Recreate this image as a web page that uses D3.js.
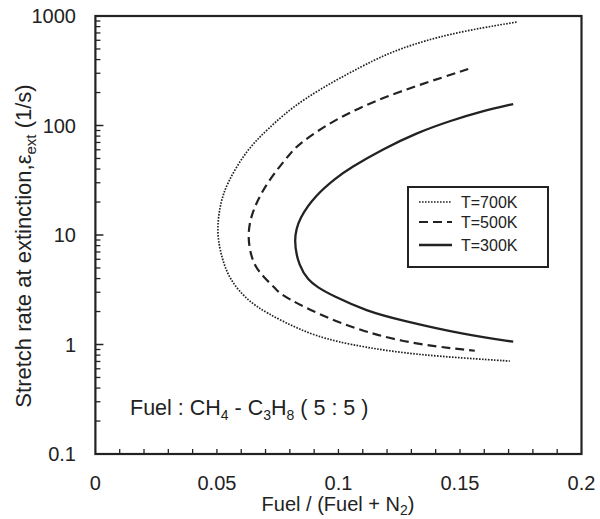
<!DOCTYPE html>
<html><head><meta charset="utf-8">
<script src="https://cdn.jsdelivr.net/npm/d3@7"></script>
<style>body{margin:0;background:#fff}svg{display:block}text{font-family:"Liberation Sans",Arial,sans-serif;fill:#222}</style>
</head><body><svg id="c" width="600" height="519"></svg>
<script>
const xTicks = [0, 0.05, 0.1, 0.15, 0.2];
const yTicks = [0.1, 1, 10, 100, 1000];
const seriesNames = ["T=700K", "T=500K", "T=300K"];
const x700 = [0.1733,0.1458,0.1253,0.1116,0.0841,0.0705,0.0622,0.0540,0.0512,0.0498,0.0522,0.0554,0.0623,0.0705,0.0841,0.0978,0.1253,0.1527,0.1705];
const y700 = [881,695,507,370,171,91,59.7,29.6,18.8,10.4,5.9,3.88,2.55,1.93,1.36,1.06,0.832,0.748,0.706];
const x500 = [0.1534,0.1458,0.1184,0.0978,0.0841,0.0807,0.0710,0.0652,0.0622,0.0645,0.0691,0.0746,0.0773,0.0978,0.1253,0.1561];
const y500 = [328,289,183,112,68.7,57.7,31.1,18.1,10.4,5.52,4.16,3.15,2.74,1.62,1.04,0.877];
const x300 = [0.1719,0.1595,0.1458,0.1321,0.1184,0.1047,0.0990,0.0907,0.0838,0.0814,0.0838,0.0876,0.0912,0.0978,0.1116,0.1253,0.1527,0.1719];
const y300 = [157,136,110,85.5,61,40.9,33.2,23.2,14.3,9.0,5.14,3.88,3.35,2.77,2.02,1.67,1.22,1.06];

const svg = d3.select("#c");
const L=95.4,R=581.5,T=16,B=454;
const x = d3.scaleLinear().domain([0,0.2]).range([L,R]);
const y = d3.scaleLog().domain([0.1,1000]).range([B,T]);
const ink="#222";

// bottom ticks (inward)
const xMinor = d3.range(1,20).map(i=>i*0.01);
svg.append("g").selectAll("line").data(xMinor).join("line")
  .attr("x1",d=>x(d)).attr("x2",d=>x(d)).attr("y1",B).attr("y2",B-5)
  .attr("stroke",ink).attr("stroke-width",1.3);
// left log ticks
const yMinor=[];
[0.1,1,10,100].forEach(dec=>{for(let k=2;k<=9;k++) yMinor.push(dec*k);});
svg.append("g").selectAll("line").data(yMinor).join("line")
  .attr("x1",L).attr("x2",L+5).attr("y1",d=>y(d)).attr("y2",d=>y(d))
  .attr("stroke",ink).attr("stroke-width",1.3);
svg.append("g").selectAll("line").data(yTicks.slice(1,4)).join("line")
  .attr("x1",L).attr("x2",L+8).attr("y1",d=>y(d)).attr("y2",d=>y(d))
  .attr("stroke",ink).attr("stroke-width",1.5);

// frame
svg.append("rect").attr("x",L).attr("y",T).attr("width",R-L).attr("height",B-T)
  .attr("fill","none").attr("stroke",ink).attr("stroke-width",2.2);

// tick labels
svg.append("g").selectAll("text").data(xTicks).join("text")
  .attr("x",d=>x(d)).attr("y",490).attr("text-anchor","middle")
  .attr("font-size",20).text(d=>String(d));
svg.append("g").selectAll("text").data(yTicks).join("text")
  .attr("x",76).attr("y",d=>y(d)+7).attr("text-anchor","end")
  .attr("font-size",20).text(d=>String(d));

// axis titles
const xt = svg.append("text").attr("x",338).attr("y",511).attr("text-anchor","middle").attr("font-size",20);
xt.append("tspan").text("Fuel / (Fuel + N");
xt.append("tspan").attr("font-size",14).attr("dy",4).text("2");
xt.append("tspan").attr("dy",-4).text(")");
const yt = svg.append("text").attr("transform","translate(31,246) rotate(-90)").attr("text-anchor","middle").attr("font-size",22);
yt.append("tspan").text("Stretch rate at extinction,\u03b5");
yt.append("tspan").attr("font-size",15).attr("dy",5).text("ext");
yt.append("tspan").attr("dy",-5).text("  (1/s)");

// curves
const line = d3.line().x(d=>x(d[0])).y(d=>y(d[1])).curve(d3.curveBasis);
const styles = [
  {dash:"1.6,1.4", w:1.7},
  {dash:"9,5", w:2.2},
  {dash:null, w:2.3}
];
const data = [d3.zip(x700,y700), d3.zip(x500,y500), d3.zip(x300,y300)];
data.forEach((pts,i)=>{
  svg.append("path").attr("d",line(pts)).attr("fill","none").attr("stroke",ink)
    .attr("stroke-width",styles[i].w).attr("stroke-dasharray",styles[i].dash);
});

// legend
svg.append("rect").attr("x",408).attr("y",187).attr("width",140).attr("height",80)
  .attr("fill","#fff").attr("stroke",ink).attr("stroke-width",2);
const ly=[202,222,245];
seriesNames.forEach((n,i)=>{
  svg.append("line").attr("x1",419).attr("x2",452).attr("y1",ly[i]).attr("y2",ly[i])
    .attr("stroke",ink).attr("stroke-width",styles[i].w).attr("stroke-dasharray",styles[i].dash);
  svg.append("text").attr("x",461).attr("y",ly[i]+6).attr("font-size",16).text(n);
});

// annotation
const an = svg.append("text").attr("x",130).attr("y",415).attr("font-size",21.5);
an.append("tspan").text("Fuel : CH");
an.append("tspan").attr("font-size",14).attr("dy",5).text("4");
an.append("tspan").attr("dy",-5).text(" - C");
an.append("tspan").attr("font-size",14).attr("dy",5).text("3");
an.append("tspan").attr("dy",-5).text("H");
an.append("tspan").attr("font-size",14).attr("dy",5).text("8");
an.append("tspan").attr("dy",-5).text(" ( 5 : 5 )");
</script></body></html>
